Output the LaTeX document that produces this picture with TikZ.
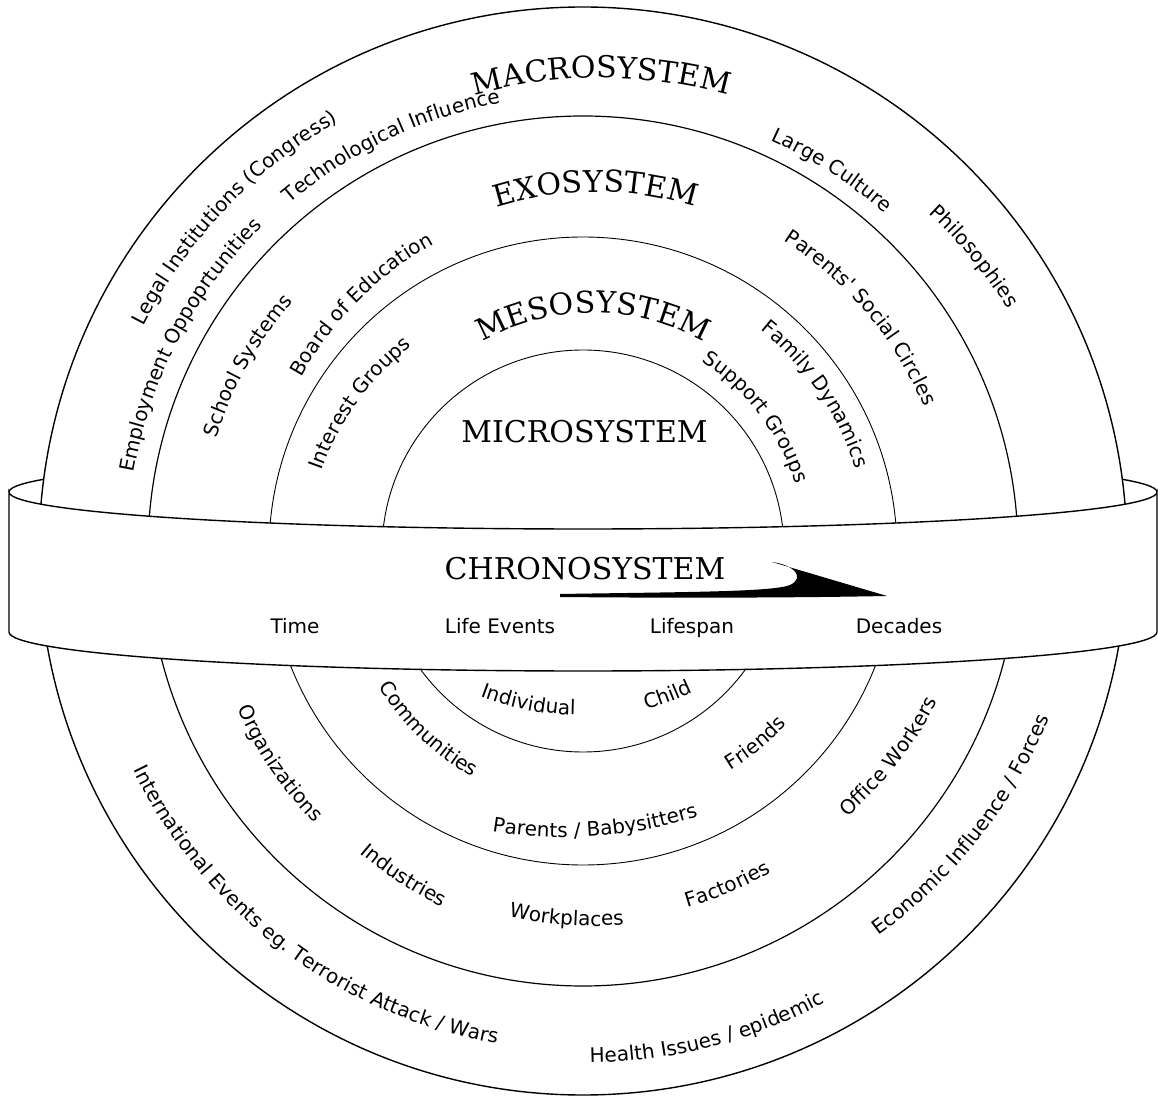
\documentclass[tikz,border=0pt]{standalone}
\usepackage{fontspec}
\usepackage{tikz}
\usetikzlibrary{calc,decorations.text}
\newfontfamily\sysfam{DejaVu Serif}
\newfontfamily\tagfam{DejaVu Sans}
\newcommand{\sysfont}{\sysfam\fontsize{30}{36}\selectfont}
\newcommand{\tagfont}{\tagfam\fontsize{20}{24}\selectfont}
\tikzstyle{ring}=[draw,line width=0.9pt]
\tikzstyle{band}=[draw,line width=1.4pt,fill=white]
\tikzstyle{sysname}=[font=\sysfont,inner sep=0pt,anchor=base]
\tikzstyle{tag}=[font=\tagfont,inner sep=0pt,anchor=base]

% text on an arc bent upwards: point, tilt, radius, font, text
\newcommand{\capat}[5]{%
  \path[decorate,decoration={text along path,text align=center,text={|#4|#5}}]
    ($#1+(#2-90:#3)+(#2+150:#3)$) arc[start angle=#2+150,end angle=#2+30,radius=#3pt];}
% text on an arc bent downwards
\newcommand{\smileat}[5]{%
  \path[decorate,decoration={text along path,text align=center,text={|#4|#5}}]
    ($#1+(#2+90:#3)+(#2+210:#3)$) arc[start angle=#2+210,end angle=#2+330,radius=#3pt];}

\begin{document}
\begin{tikzpicture}[x=1pt,y=1pt]
  \useasboundingbox (-583,-548) rectangle (575,551);

  % back rim of the band
  \draw[line width=1.4pt] (-574,59) arc[start angle=180,end angle=0,x radius=574pt,y radius=37pt];

  % the four systems
  \draw[ring,line width=1.4pt,fill=white] (0,0) circle[radius=544pt];
  \draw[ring,line width=1.2pt] (0,0) circle[radius=435pt];
  \draw[ring] (0,0) circle[radius=314pt];
  \draw[ring] (0,0) circle[radius=201pt];

  % upper half
  \capat{(0,0)+(18.5,473)}{0}{472}{\sysfont}{MACROSYSTEM}
  \capat{(0,0)+(12.5,359)}{0}{330}{\sysfont}{EXOSYSTEM}
  \capat{(0,0)+(10,238)}{0}{225}{\sysfont}{MESOSYSTEM}
  \node[sysname] (micro) at (1.5,108) {MICROSYSTEM};

  \capat{(136.3:494)}{46.3}{494}{\tagfont}{Legal Institutions (Congress)}
  \capat{(115.3:455)}{25.5}{455}{\tagfont}{Technological Influence}
  \capat{(152.4:456)}{62.4}{456}{\tagfont}{Employment Oppoprtunities}
  \capat{(151.1:383)}{60.5}{383}{\tagfont}{School Systems}
  \capat{(132:336)}{45}{336}{\tagfont}{Board of Education}
  \capat{(146.5:270)}{54}{270}{\tagfont}{Interest Groups}
  \capat{(56.8:452)}{-33}{452}{\tagfont}{Large Culture}
  \capat{(37:486)}{-50.5}{486}{\tagfont}{Philosophies}
  \capat{(40:370)}{-49.8}{370}{\tagfont}{Parents' Social Circles}
  \capat{(34:284)}{-55.5}{284}{\tagfont}{Family Dynamics}
  \capat{(37.7:223)}{-52.5}{223}{\tagfont}{Support Groups}

  % lower half
  \smileat{(-56,-159)}{-10.7}{280}{\tagfont}{Individual}
  \smileat{(87,-151)}{20.7}{280}{\tagfont}{Child}
  \smileat{(228.9:248)}{-44}{248}{\tagfont}{Communities}
  \smileat{(311.8:266)}{39}{266}{\tagfont}{Friends}
  \smileat{(13,-285)}{4.2}{450}{\tagfont}{Parents / Babysitters}
  \smileat{(215:381)}{-56}{381}{\tagfont}{Organizations}
  \smileat{(241:379)}{-33}{379}{\tagfont}{Industries}
  \smileat{(-17,-374)}{-4}{376}{\tagfont}{Workplaces}
  \smileat{(293.4:372)}{23.2}{372}{\tagfont}{Factories}
  \smileat{(326:380)}{52}{380}{\tagfont}{Office Workers}
  \smileat{(233:500)}{-37}{500}{\tagfont}{International Events eg. Terrorist Attack / Wars}
  \smileat{(284.5:512)}{14.5}{512}{\tagfont}{Health Issues / epidemic}
  \smileat{(324:490)}{52}{490}{\tagfont}{Economic Influence / Forces}

  % chronosystem band
  \draw[band] (-574,59) -- (-574,-81)
    arc[start angle=180,end angle=360,x radius=574pt,y radius=39pt] -- (574,59)
    arc[start angle=0,end angle=-180,x radius=574pt,y radius=37pt] -- cycle;
  \node[sysname] (chrono) at (2,-29) {CHRONOSYSTEM};
  \fill (-23,-43) .. controls (100,-41) and (190,-41) .. (207,-34)
    .. controls (222,-27) and (212,-14) .. (189,-11) -- (304,-45)
    .. controls (200,-47) and (80,-47) .. (-23,-46) -- cycle;
  \node[tag] (time) at (-288,-83) {Time};
  \node[tag] (events) at (-83,-83) {Life Events};
  \node[tag] (lifespan) at (109,-83) {Lifespan};
  \node[tag] (decades) at (316,-83) {Decades};
\end{tikzpicture}
\end{document}
